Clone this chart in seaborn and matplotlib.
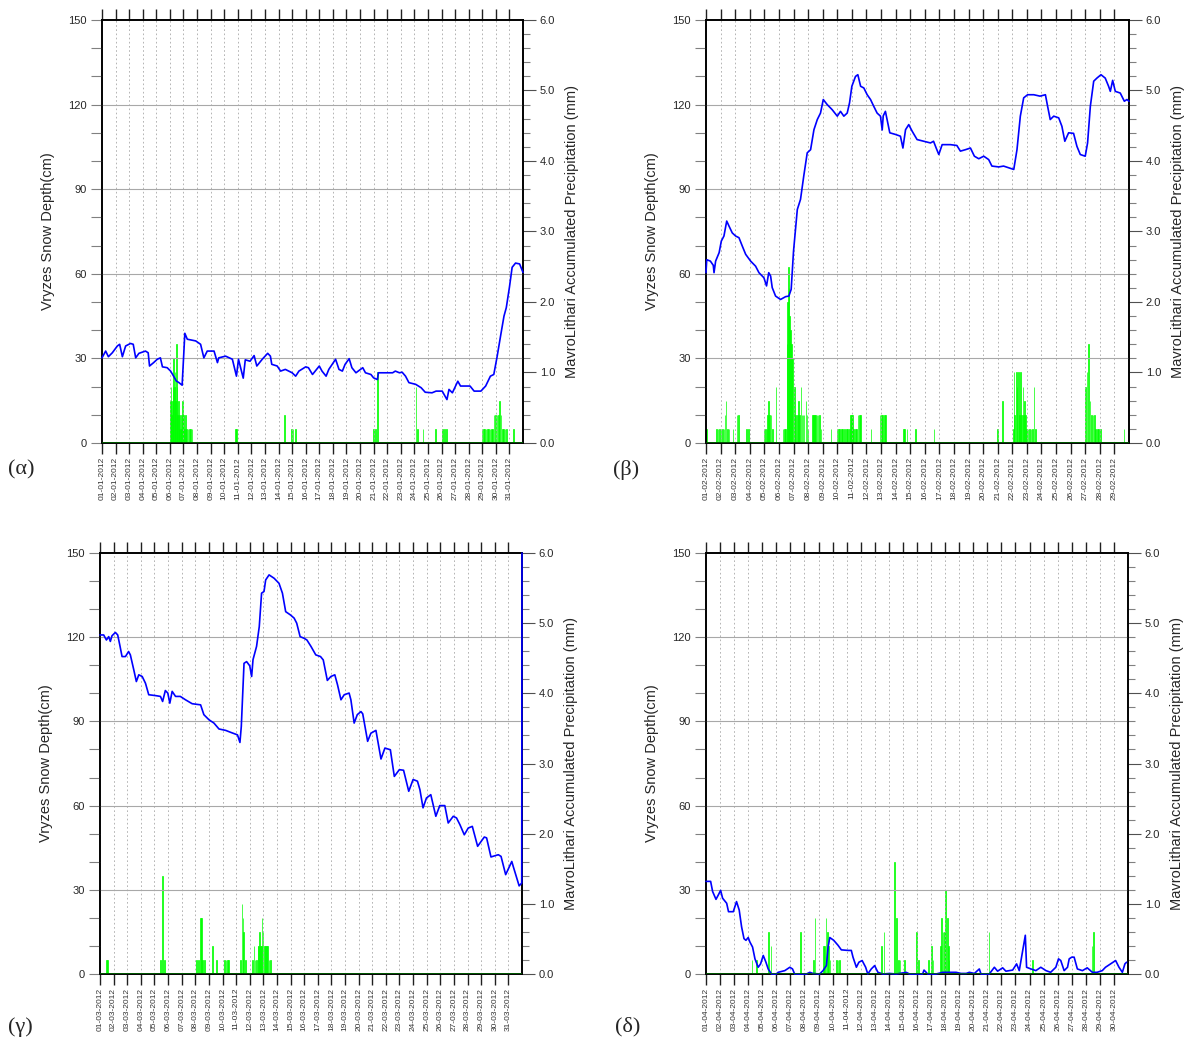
import pandas as pd
import matplotlib
matplotlib.use("Agg")
import matplotlib.pyplot as plt
from matplotlib.ticker import MultipleLocator, FormatStrFormatter
import seaborn as sns

# -----------------------------------
# DATA : SNOW DEPTH (cm) AT VRYZES
# time is in days from the first of the month
# -----------------------------------

jan_t = [0.0, 0.27, 0.47, 0.76, 1.13, 1.30, 1.50, 1.74, 2.10, 2.30, 2.48, 2.72, 3.20, 3.40,
         3.50, 3.80, 4.07, 4.30, 4.45, 4.80, 5.05, 5.20, 5.47, 5.67, 5.90, 6.10, 6.28, 6.90,
         7.26, 7.50, 7.75, 8.25, 8.50, 8.60, 9.10, 9.60, 9.90, 10.05, 10.40, 10.55, 10.90,
         11.20, 11.40, 11.80, 12.20, 12.40, 12.50, 12.90, 13.15, 13.50, 14.00, 14.26, 14.50,
         15.00, 15.20, 15.50, 16.00, 16.20, 16.50, 16.70, 17.20, 17.45, 17.70, 17.90, 18.20,
         18.40, 18.70, 19.20, 19.40, 19.80, 20.00, 20.28, 20.35, 21.40, 21.60, 21.90, 22.10,
         22.35, 22.60, 23.10, 23.50, 23.80, 24.30, 24.60, 25.05, 25.40, 25.55, 25.80, 26.20,
         26.40, 26.80, 27.10, 27.40, 27.90, 28.25, 28.60, 28.85, 29.10, 29.35, 29.60, 29.77,
         30.00, 30.20, 30.45, 30.75, 31.00]
jan_snow = [30.2, 32.6, 30.6, 32.0, 34.4, 35.0, 30.6, 34.4, 35.3, 35.0, 30.2, 31.8, 32.6, 32.0,
            27.3, 28.5, 29.7, 30.2, 27.0, 26.7, 25.5, 24.3, 22.0, 21.4, 20.5, 38.9, 36.8, 36.2,
            35.0, 30.2, 32.6, 32.6, 28.5, 30.2, 30.8, 29.7, 23.7, 29.7, 23.0, 29.5, 29.0,
            31.0, 27.3, 29.7, 31.8, 30.8, 27.9, 27.3, 25.5, 26.1, 24.9, 23.7, 25.5,
            27.0, 26.7, 24.3, 27.3, 25.5, 23.7, 26.1, 29.7, 26.1, 25.5, 27.9, 29.9,
            26.7, 24.9, 26.7, 24.9, 24.3, 23.1, 22.5, 24.9, 24.9, 25.5, 24.9, 25.1,
            23.7, 21.4, 20.8, 19.6, 18.0, 17.8, 18.4, 18.4, 15.4, 19.0, 17.8, 21.9,
            20.2, 20.2, 20.2, 18.4, 18.4, 20.2, 23.7, 24.3, 30.8, 38.0, 45.0, 48.0,
            55.2, 62.3, 63.8, 63.5, 60.5]

feb_t = [0.00, 0.05, 0.30, 0.50, 0.55, 0.66, 0.90, 1.05, 1.23, 1.42, 1.58, 1.80, 2.03, 2.26,
         2.49, 2.72, 3.06, 3.40, 3.63, 3.97, 4.15, 4.30, 4.43, 4.54, 4.77, 5.11, 5.46, 5.68,
         5.84, 6.00, 6.26, 6.48, 6.70, 6.94, 7.17, 7.40, 7.63, 7.85, 8.04, 8.31, 8.65, 9.00,
         9.22, 9.45, 9.68, 9.84, 10.00, 10.25, 10.41, 10.60, 10.82, 11.05, 11.28, 11.50,
         11.73, 11.96, 12.08, 12.15, 12.30, 12.60, 13.00, 13.33, 13.50, 13.68, 13.90, 14.13,
         14.47, 14.93, 15.39, 15.60, 15.78, 15.96, 16.19, 16.76, 17.20, 17.44, 17.78, 18.13,
         18.40, 18.70, 19.04, 19.38, 19.60, 20.07, 20.40, 20.75, 21.10, 21.32, 21.55, 21.78,
         22.05, 22.47, 22.90, 23.27, 23.42, 23.60, 23.84, 24.18, 24.40, 24.60, 24.86, 25.20,
         25.43, 25.66, 26.00, 26.16, 26.35, 26.58, 26.80, 27.08, 27.37, 27.60, 27.72, 27.88,
         28.06, 28.40, 28.68, 28.86, 29.00]
feb_snow = [60.4, 65.0, 64.5, 63.0, 60.4, 64.5, 67.5, 71.6, 73.4, 78.7, 76.9, 74.5, 73.4, 72.8,
            69.8, 66.9, 64.5, 62.7, 60.4, 58.6, 55.7, 60.4, 59.2, 55.1, 52.1, 50.9, 51.9, 52.1,
            54.5, 68.0, 82.8, 86.4, 94.6, 102.9, 104.0, 111.1, 114.7, 117.0, 121.8, 120.0, 118.2, 115.9,
            117.6, 115.9, 117.0, 120.6, 126.5, 130.0, 130.6, 126.5, 125.9, 123.5, 121.8, 119.4,
            117.0, 115.9, 111.0, 116.0, 117.6, 110.0, 109.4, 108.8, 104.6, 111.1, 112.9, 110.6,
            107.6, 107.0, 106.4, 107.0, 104.6, 102.3, 105.8, 105.8, 105.5, 103.5, 104.0, 104.6,
            101.7, 100.8, 101.7, 100.5, 98.2, 97.9, 98.2, 97.6, 97.0, 104.0, 115.9, 122.4,
            123.5, 123.5, 123.0, 123.5, 119.4, 114.7, 115.9, 115.3, 112.3, 107.0, 110.0, 109.8,
            105.2, 102.3, 101.7, 106.4, 119.4, 128.3, 129.4, 130.6, 129.4, 126.5, 124.7, 128.6,
            124.7, 124.1, 121.2, 121.8, 121.2]

mar_t = [0.00, 0.27, 0.47, 0.64, 0.76, 0.88, 1.13, 1.30, 1.45, 1.62, 1.87, 2.10, 2.23, 2.48,
         2.67, 2.85, 3.10, 3.34, 3.58, 4.07, 4.44, 4.60, 4.80, 4.98, 5.13, 5.30, 5.55, 5.90,
         6.28, 6.77, 7.39, 7.63, 8.00, 8.37, 8.74, 9.23, 9.60, 10.10, 10.28, 10.38, 10.58,
         10.77, 11.00, 11.14, 11.24, 11.50, 11.70, 11.87, 12.05, 12.17, 12.42, 12.79, 13.15,
         13.40, 13.64, 14.00, 14.26, 14.45, 14.70, 15.00, 15.20, 15.50, 15.85, 16.20, 16.40,
         16.70, 16.96, 17.25, 17.45, 17.70, 17.94, 18.30, 18.43, 18.67, 18.90, 19.17, 19.30,
         19.66, 19.90, 20.27, 20.64, 20.93, 21.33, 21.62, 21.99, 22.30, 22.68, 23.00, 23.32,
         23.50, 23.73, 23.98, 24.30, 24.67, 24.96, 25.33, 25.58, 25.95, 26.19, 26.44, 26.76,
         27.05, 27.35, 27.74, 28.23, 28.40, 28.72, 29.26, 29.46, 29.80, 30.25, 30.37, 30.79,
         30.98, 31.00]
mar_snow = [120.8, 120.8, 119.0, 120.2, 118.5, 120.5, 121.7, 120.8, 117.3, 113.1, 113.1, 114.9, 113.7, 108.4,
            104.2, 106.6, 106.0, 103.6, 99.5, 99.2, 98.9, 97.1, 101.0, 100.1, 96.5, 100.7, 98.9, 98.9,
            97.7, 96.3, 95.9, 92.4, 90.6, 89.4, 87.3, 86.8, 86.1, 85.2, 82.5, 88.2, 110.7,
            111.3, 109.8, 106.0, 112.0, 116.7, 123.8, 135.7, 136.3, 140.4, 142.2, 141.0, 139.2,
            135.7, 129.1, 127.9, 126.8, 125.0, 120.2, 119.6, 119.0, 116.7, 113.7, 113.1, 111.9,
            104.6, 106.0, 106.6, 103.0, 97.7, 99.5, 100.1, 97.7, 89.4, 92.4, 93.5, 92.7,
            82.9, 85.8, 86.8, 76.6, 80.5, 79.9, 70.4, 72.8, 72.6, 65.1, 69.3, 68.7,
            65.7, 59.2, 62.7, 63.9, 56.2, 60.0, 60.0, 53.8, 56.2, 55.6, 53.2, 49.6,
            52.0, 52.6, 45.5, 48.8, 48.5, 41.7, 42.5, 41.9, 35.4, 40.1, 38.1, 31.4,
            32.4, 150.0]

apr_t = [0.00, 0.33, 0.47, 0.71, 0.88, 1.04, 1.18, 1.47, 1.60, 1.94, 2.17, 2.36, 2.53, 2.70,
         2.84, 3.00, 3.12, 3.31, 3.48, 3.71, 3.88, 4.07, 4.26, 4.42, 4.66, 5.00, 5.13, 5.60,
         5.96, 6.15, 6.30, 7.14, 7.38, 7.60, 8.08, 8.32, 8.56, 8.68, 8.80, 9.08, 9.39, 9.62,
         10.10, 10.33, 10.45, 10.69, 10.87, 11.10, 11.35, 11.50, 11.75, 11.99, 12.22, 12.58,
         13.05, 13.52, 14.23, 14.47, 15.40, 15.50, 15.76, 16.35, 16.83, 17.78, 18.13, 18.50,
         18.72, 19.08, 19.43, 19.55, 20.14, 20.50, 20.73, 21.09, 21.32, 21.80, 22.08, 22.27,
         22.70, 22.79, 23.10, 23.45, 23.80, 24.17, 24.50, 24.87, 25.06, 25.22, 25.46, 25.70,
         25.82, 26.00, 26.17, 26.40, 26.76, 27.10, 27.47, 27.80, 28.17, 28.40, 28.76, 29.12,
         29.36, 29.60, 29.78, 29.90]
apr_snow = [33.0, 33.0, 29.4, 26.6, 28.2, 29.8, 27.0, 25.2, 22.2, 22.2, 25.8, 22.8, 16.8, 12.6,
            12.0, 13.0, 11.4, 9.6, 5.4, 2.4, 3.6, 6.6, 4.2, 1.8, 0.0, 0.0, 0.6, 1.2,
            2.4, 1.8, 0.0, 0.0, 0.6, 0.2, 0.0, 1.2, 3.0, 9.6, 13.0, 12.0, 10.2, 8.6,
            8.4, 8.4, 6.0, 2.4, 4.2, 4.8, 2.4, 0.0, 1.8, 3.0, 0.6, 0.0,
            0.2, 0.0, 0.6, 0.0, 0.0, 1.4, 0.0, 0.0, 0.6, 0.6, 0.2, 0.2,
            0.6, 0.2, 1.8, 0.0, 0.0, 2.4, 1.0, 2.2, 1.0, 1.4, 3.6, 1.2,
            13.8, 2.4, 1.8, 1.2, 2.4, 1.2, 0.6, 2.4, 5.4, 4.8, 1.2, 2.4,
            5.4, 6.0, 6.0, 1.8, 1.2, 2.2, 0.6, 0.6, 1.2, 2.4, 3.6, 4.8,
            2.4, 0.6, 3.6, 4.2]

# -----------------------------------
# DATA : PRECIPITATION (mm) AT MAVROLITHARI
# -----------------------------------

jan_rain_t = [5.00, 5.05, 5.10, 5.15, 5.20, 5.25, 5.30, 5.35, 5.40, 5.45, 5.50, 5.55, 5.60, 5.65,
              5.70, 5.75, 5.80, 5.85, 5.90, 5.95, 6.00, 6.05, 6.10, 6.15, 6.20, 6.30, 6.40, 6.50,
              6.60, 9.80, 9.90, 13.40, 13.95, 14.05, 14.20, 19.95, 20.10, 20.27, 23.10, 23.20,
              23.60, 24.55, 25.05, 25.20, 25.35, 27.95, 28.05, 28.15, 28.25, 28.35, 28.45, 28.55,
              28.65, 28.75, 28.85, 28.95, 29.05, 29.15, 29.25, 29.35, 29.45, 29.55, 29.65, 29.75,
              30.30]
jan_rain = [0.6, 0.8, 0.4, 0.6, 0.8, 1.2, 0.8, 1.0, 0.6, 1.4, 0.8, 0.4, 0.6, 0.2,
            0.4, 0.2, 0.2, 0.4, 0.6, 0.4, 0.4, 0.2, 0.4, 0.2, 0.2, 0.2, 0.2, 0.2,
            0.2, 0.2, 0.2, 0.4, 0.2, 0.2, 0.2, 0.2, 0.2, 1.0, 0.8, 0.2,
            0.2, 0.2, 0.2, 0.2, 0.2, 0.2, 0.2, 0.2, 0.2, 0.2, 0.2, 0.2,
            0.2, 0.2, 0.4, 0.4, 0.4, 0.4, 0.6, 0.4, 0.2, 0.2, 0.2, 0.2,
            0.2]

feb_rain_t = [0.00, 0.70, 0.80, 0.90, 1.00, 1.10, 1.20, 1.28, 1.35, 1.45, 1.55, 1.83, 2.10, 2.20,
              2.75, 2.90, 3.95, 4.05, 4.15, 4.20, 4.27, 4.35, 4.43, 4.54, 4.77, 5.25, 5.35, 5.45,
              5.52, 5.57, 5.62, 5.67, 5.72, 5.77, 5.82, 5.91, 6.03, 6.10, 6.26, 6.33, 6.40, 6.48,
              6.55, 6.62, 6.70, 6.83, 6.90, 6.97, 7.28, 7.35, 7.42, 7.50, 7.58, 7.66, 7.74, 7.85,
              8.54, 8.95, 9.05, 9.15, 9.25, 9.35, 9.45, 9.60, 9.70, 9.80, 9.86, 9.93, 10.00, 10.10,
              10.20, 10.30, 10.40, 10.48, 10.55, 11.28, 11.90, 12.00, 12.10, 12.20, 12.30, 13.50,
              13.60, 13.75, 14.36, 15.60, 19.95, 20.30, 21.05, 21.10, 21.15, 21.25, 21.30, 21.40,
              21.45, 21.55, 21.60, 21.70, 21.75, 21.82, 21.90, 21.95, 22.05, 22.15, 22.25, 22.35,
              22.47, 22.55, 26.00, 26.10, 26.20, 26.30, 26.40, 26.50, 26.60, 26.70, 26.80, 26.90,
              27.00, 28.63]
feb_rain = [0.2, 0.2, 0.2, 0.2, 0.2, 0.2, 0.2, 0.4, 0.6, 0.2, 0.2, 0.2, 0.4, 0.4,
            0.2, 0.2, 0.2, 0.2, 0.2, 0.4, 0.6, 0.4, 0.4, 0.2, 0.8, 0.2, 0.2, 0.2,
            1.4, 2.0, 2.5, 2.2, 1.8, 1.6, 1.4, 1.2, 0.8, 0.4, 0.4, 0.6, 0.4, 0.8,
            0.4, 0.4, 0.4, 0.6, 0.4, 0.2, 0.4, 0.4, 0.4, 0.4, 0.4, 0.4, 0.4, 0.2,
            0.2, 0.2, 0.2, 0.2, 0.2, 0.2, 0.2, 0.2, 0.2, 0.2, 0.4, 0.4, 0.4, 0.2,
            0.2, 0.2, 0.4, 0.4, 0.4, 0.2, 0.4, 0.4, 0.4, 0.4, 0.4, 0.2,
            0.2, 0.2, 0.2, 0.2, 0.2, 0.6, 0.2, 1.0, 0.4, 1.0, 0.8, 1.0,
            0.4, 1.0, 0.4, 0.8, 0.4, 0.6, 0.4, 0.2, 0.2, 0.2, 0.2, 0.2,
            0.8, 0.2, 0.8, 1.0, 1.4, 0.6, 0.4, 0.4, 0.4, 0.2, 0.2, 0.2,
            0.2, 0.2]

mar_rain_t = [0.47, 0.52, 4.40, 4.57, 4.69, 7.08, 7.20, 7.35, 7.45, 7.52, 7.64, 8.26, 8.55, 9.12,
              9.22, 9.32, 9.41, 10.30, 10.40, 10.47, 10.54, 10.64, 11.20, 11.28, 11.35, 11.45,
              11.57, 11.64, 11.70, 11.77, 11.82, 11.87, 11.94, 12.06, 12.13, 12.20, 12.30, 12.40,
              12.50]
mar_rain = [0.2, 0.2, 0.2, 1.4, 0.2, 0.2, 0.2, 0.8, 0.8, 0.2, 0.2, 0.4, 0.2, 0.2,
            0.2, 0.2, 0.2, 0.2, 1.0, 0.8, 0.6, 0.2, 0.2, 0.4, 0.2, 0.2,
            0.4, 0.4, 0.6, 0.4, 0.4, 0.8, 0.6, 0.4, 0.4, 0.4, 0.4, 0.2,
            0.2]

apr_rain_t = [3.24, 3.55, 4.42, 4.60, 6.67, 7.60, 7.73, 8.32, 8.40, 8.50, 8.60, 8.70, 8.80, 9.27,
              9.36, 9.45, 12.46, 12.62, 13.40, 13.52, 13.64, 13.76, 14.10, 14.94, 15.06, 15.77,
              16.00, 16.12, 16.64, 16.72, 16.83, 16.93, 17.02, 17.12, 17.19, 17.26, 20.09, 23.21,
              27.42, 27.52]
apr_rain = [0.2, 0.2, 0.6, 0.4, 0.6, 0.2, 0.8, 0.4, 0.4, 0.8, 0.6, 0.4, 0.2, 0.2,
            0.2, 0.2, 0.4, 0.6, 1.6, 0.8, 0.2, 0.2, 0.2, 0.6, 0.2, 0.2,
            0.4, 0.2, 0.4, 0.8, 0.6, 0.6, 1.2, 0.8, 0.4, 0.2, 0.6, 0.2,
            0.4, 0.6]

month_days = [31, 29, 31, 30]
month_numbers = [1, 2, 3, 4]
panel_tags = ["(α)", "(β)", "(γ)", "(δ)"]

left_label = "Vryzes Snow Depth(cm)"
right_label = "MavroLithari Accumulated Precipitation (mm)"

W, H = 1189, 1042


def px_rect(left, top, right, bottom):
    # pixel box -> figure fraction
    return [left / W, 1 - bottom / H, (right - left) / W, (bottom - top) / H]


def draw_panel(fig, rect, snow_t, snow_cm, rain_t, rain_mm, n_days, month):

    ax = fig.add_axes(rect)
    ax2 = ax.twinx()

    # snow line drawn above the rain bars
    ax.set_zorder(ax2.get_zorder() + 1)
    ax.patch.set_visible(False)

    # ---------------- RAIN BARS ----------------
    ax2.bar(
        rain_t,
        rain_mm,
        width=0.05,
        align='edge',
        color='#00ff00',
        edgecolor='#00ff00',
        linewidth=0.5,
        zorder=2
    )

    # ---------------- GRID ----------------
    for y in (30, 60, 90, 120):
        ax.axhline(y, color='#a8a8a8', linewidth=0.8, zorder=1)
    for d in range(1, n_days):
        ax.axvline(d, color='#a8a8a8', linewidth=0.6,
                   linestyle=(0, (2, 3)), zorder=1)

    # ---------------- SNOW LINE ----------------
    snow_df = pd.DataFrame({'day': snow_t, 'snow': snow_cm})
    sns.lineplot(
        data=snow_df,
        x='day',
        y='snow',
        ax=ax,
        color='#0000ff',
        linewidth=1.2,
        estimator=None,
        sort=False,
        zorder=3
    )
    # let the line sit over the frame (visible on the right edge in March)
    ax.lines[-1].set_clip_on(False)

    # zero line of the rain series
    ax.axhline(0, color='#007000', linewidth=1.8, zorder=5)

    # ---------------- AXES ----------------
    ax.set_xlim(0, n_days)
    ax.set_ylim(0, 150)
    ax2.set_ylim(0, 6)

    ax.set_xticks(range(n_days))
    ax.set_xticklabels(
        [f"{d + 1:02d}-{month:02d}-2012" for d in range(n_days)],
        rotation=90
    )
    ax.tick_params(axis='x', which='major', direction='out', length=8,
                   width=1.0, color='#202020', top=True, bottom=True,
                   labelsize=6, labelcolor='#333333', pad=2)

    ax.set_yticks(range(0, 151, 30))
    ax.yaxis.set_minor_locator(MultipleLocator(10))
    ax.tick_params(axis='y', which='both', direction='out', length=8,
                   width=0.8, color='#808080', labelsize=8, pad=3)

    ax2.set_yticks([0, 1, 2, 3, 4, 5, 6])
    ax2.yaxis.set_major_formatter(FormatStrFormatter('%.1f'))
    ax2.yaxis.set_minor_locator(MultipleLocator(0.2))
    ax2.tick_params(axis='y', which='major', direction='out', length=9,
                    width=0.8, color='#505050', labelsize=8, pad=3)
    ax2.tick_params(axis='y', which='minor', direction='out', length=5,
                    width=0.8, color='#808080')

    ax.set_xlabel("")
    ax.set_ylabel(left_label, fontsize=10.5)
    ax.yaxis.set_label_coords(-0.112, 0.5)
    ax2.set_ylabel(right_label, fontsize=10.5)
    ax2.yaxis.set_label_coords(1.100, 0.5)

    for a in (ax, ax2):
        for s in a.spines.values():
            s.set_linewidth(1.2)
            s.set_color('black')

    return ax


def main():

    sns.set_style("white")
    plt.rcParams['font.family'] = ['Liberation Sans', 'DejaVu Sans']

    fig = plt.figure(figsize=(W / 100, H / 100), dpi=100)

    panels = [
        (jan_t, jan_snow, jan_rain_t, jan_rain),
        (feb_t, feb_snow, feb_rain_t, feb_rain),
        (mar_t, mar_snow, mar_rain_t, mar_rain),
        (apr_t, apr_snow, apr_rain_t, apr_rain),
    ]

    boxes = [
        px_rect(102, 20, 523, 443),
        px_rect(706, 20, 1129, 443),
        px_rect(100, 553, 522, 974),
        px_rect(706, 553, 1128, 974),
    ]

    tag_pos = [(8, 470), (613, 470), (8, 1027), (615, 1027)]

    for i in range(4):
        s_t, s_v, r_t, r_v = panels[i]
        draw_panel(fig, boxes[i], s_t, s_v, r_t, r_v,
                   month_days[i], month_numbers[i])
        fig.text(tag_pos[i][0] / W, 1 - tag_pos[i][1] / H, panel_tags[i],
                 ha='left', va='center', fontsize=16,
                 family=['Liberation Serif', 'DejaVu Serif'])

    fig.savefig("out.png", dpi=100)


if __name__ == "__main__":
    main()
